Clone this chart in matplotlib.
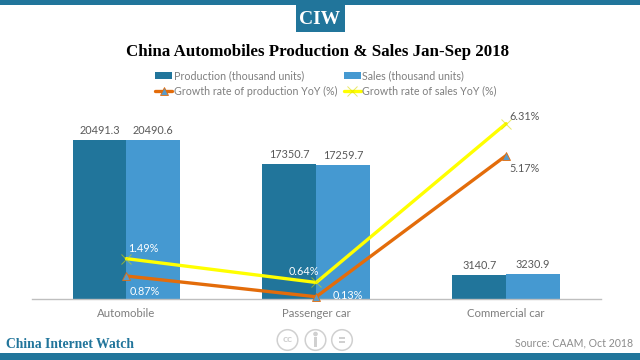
import matplotlib
matplotlib.use('Agg')
import matplotlib.pyplot as plt
from matplotlib.patches import Rectangle, Circle

# Data
categories = ['Automobile', 'Passenger car', 'Commercial car']
production = [20491.3, 17350.7, 3140.7]
sales = [20490.6, 17259.7, 3230.9]
growth_production = [0.87, 0.13, 5.17]
growth_sales = [1.49, 0.64, 6.31]

BLUE_DARK = '#21759b'
BLUE_LIGHT = '#4599d1'
ORANGE = '#e36c0a'
YELLOW = '#ffff00'
GREY = '#7f7f7f'
ICON = '#d0d0d0'
W, H = 640, 360

plt.rcParams['font.family'] = ['Lato', 'DejaVu Sans']

fig = plt.figure(figsize=(6.4, 3.6), dpi=100)


# Helpers to turn picture pixels into figure fractions
def fx(x):
    return x / W


def fy(y):
    return 1 - y / H


def add_rect(x0, y0, x1, y1, color):
    fig.add_artist(Rectangle((fx(x0), fy(y1)), (x1 - x0) / W, (y1 - y0) / H,
                             transform=fig.transFigure, color=color, linewidth=0))


# Axes placed from pixel positions
left, right, top, bottom = 31.5, 601, 60, 299
ax = fig.add_axes([fx(left), fy(bottom), (right - left) / W, (bottom - top) / H])
x = list(range(len(categories)))
width = 0.284
bars1 = ax.bar([i - width / 2 for i in x], production, width, color=BLUE_DARK,
               label='Production (thousand units)')
bars2 = ax.bar([i + width / 2 for i in x], sales, width, color=BLUE_LIGHT,
               label='Sales (thousand units)')
ax.set_xlim(-0.5, 2.5)
ax.set_ylim(0, 30800)
ax.set_yticks([])
ax.set_xticks(x)
ax.set_xticklabels(categories, fontsize=8.2, color=GREY)
ax.tick_params(axis='x', length=0, pad=6.5)
for s in ['top', 'left', 'right']:
    ax.spines[s].set_visible(False)
ax.spines['bottom'].set_color('#bfbfbf')
ax.spines['bottom'].set_linewidth(1)

for bars, values in [(bars1, production), (bars2, sales)]:
    for b, v in zip(bars, values):
        ax.annotate(f'{v}', (b.get_x() + b.get_width() / 2, v), xytext=(0, 2.8),
                    textcoords='offset points', ha='center', va='bottom', fontsize=7.8, color='#595959')

# Growth lines on a second axis
ax2 = ax.twinx()
ax2.set_ylim(0.05, 8.58)
ax2.set_yticks([])
for s in ax2.spines.values():
    s.set_visible(False)
l1, = ax2.plot(x, growth_production, color=ORANGE, linewidth=2.4, marker='^', markersize=6,
               markerfacecolor='#5b9bc8', markeredgecolor=ORANGE, markeredgewidth=0.6,
               solid_capstyle='round', clip_on=False, label='Growth rate of production YoY (%)')
l2, = ax2.plot(x, growth_sales, color=YELLOW, linewidth=2.4, marker='x', markersize=7,
               markeredgecolor=(0.85, 0.85, 0.0, 0.6), markeredgewidth=0.7,
               solid_capstyle='round', clip_on=False, label='Growth rate of sales YoY (%)')

# Percent labels
prod_offsets = [(13, -11), (22.5, 0.6), (13, -9.5)]
sales_offsets = [(12, 7), (-9, 8), (13.5, 5)]
label_colors = ['white', 'white', '#595959']
for i in x:
    ax2.annotate(f'{growth_production[i]}%', (i, growth_production[i]), xytext=prod_offsets[i],
                 textcoords='offset points', ha='center', va='center', fontsize=7.8, color=label_colors[i])
    ax2.annotate(f'{growth_sales[i]}%', (i, growth_sales[i]), xytext=sales_offsets[i],
                 textcoords='offset points', ha='center', va='center', fontsize=7.8, color=label_colors[i])

# Legend
fig.legend(handles=[bars1, l1, bars2, l2], ncol=2, loc='center', bbox_to_anchor=(fx(326), fy(83.5)),
           frameon=False, fontsize=7.7, labelcolor=GREY, handlelength=1.6, handletextpad=0.15,
           columnspacing=0.6, labelspacing=0.4, borderpad=0)

# Title and branding
fig.text(fx(318), fy(51.5), 'China Automobiles Production & Sales Jan-Sep 2018', ha='center', va='center',
         fontsize=12.2, fontweight='bold', family='Liberation Serif', color='black')
add_rect(0, 0, W, 4.5, BLUE_DARK)
add_rect(295.5, 0, 344.5, 32, BLUE_DARK)
fig.text(fx(320), fy(19), 'CIW', ha='center', va='center', fontsize=14, fontweight='bold',
         family='Liberation Serif', color='white')
add_rect(0, 353, W, H, BLUE_DARK)
fig.text(fx(6), fy(345), 'China Internet Watch', ha='left', va='center', fontsize=9.8, fontweight='bold',
         family='Liberation Serif', color=BLUE_DARK)
fig.text(fx(633), fy(343), 'Source: CAAM, Oct 2018', ha='right', va='center', fontsize=7.6, color='#8c8c8c')

# Licence icons
for cx in [287.5, 315.5, 342]:
    fig.add_artist(Circle((cx / 100, (H - 340) / 100), 0.103, transform=fig.dpi_scale_trans,
                          fill=False, edgecolor=ICON, linewidth=1.1))
fig.text(fx(287.5), fy(339.5), 'cc', ha='center', va='center', fontsize=7.5, fontweight='bold', color=ICON)
fig.add_artist(Circle((3.155, (H - 334) / 100), 0.016, transform=fig.dpi_scale_trans, color=ICON))
add_rect(314, 337, 317, 347, ICON)
add_rect(339, 337, 345, 338.5, ICON)
add_rect(339, 341, 345, 342.5, ICON)

fig.savefig('out.png', dpi=100)
